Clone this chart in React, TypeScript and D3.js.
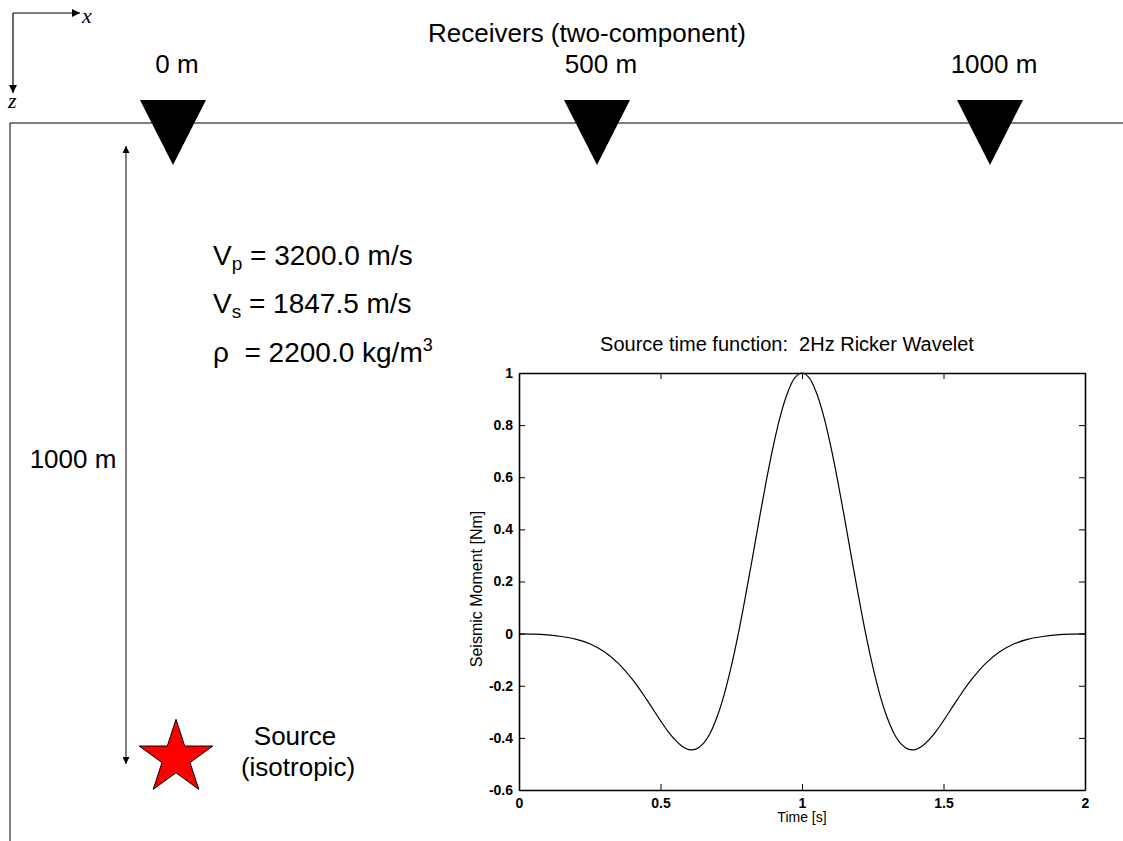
import React, { useEffect, useRef } from 'react';
import * as d3 from 'd3';

// source time function samples
const times = [
  0, 0.05, 0.1, 0.15, 0.2, 0.25, 0.3, 0.35, 0.4, 0.45,
  0.5, 0.525, 0.55, 0.575, 0.6, 0.625, 0.65, 0.675, 0.7, 0.725,
  0.75, 0.775, 0.8, 0.825, 0.85, 0.875, 0.9, 0.925, 0.95, 0.975,
  1, 1.025, 1.05, 1.075, 1.1, 1.125, 1.15, 1.175, 1.2, 1.225,
  1.25, 1.275, 1.3, 1.325, 1.35, 1.375, 1.4, 1.425, 1.45, 1.475,
  1.5, 1.55, 1.6, 1.65, 1.7, 1.75, 1.8, 1.85, 1.9, 1.95, 2,
];
const moment = [
  -0.001, -0.002, -0.005, -0.011, -0.021, -0.039, -0.069, -0.113, -0.175, -0.251,
  -0.334, -0.373, -0.406, -0.431, -0.445, -0.443, -0.423, -0.383, -0.319, -0.234,
  -0.126, 0, 0.142, 0.292, 0.445, 0.593, 0.727, 0.841, 0.927, 0.982,
  1, 0.982, 0.927, 0.841, 0.727, 0.593, 0.445, 0.292, 0.142, 0,
  -0.126, -0.234, -0.319, -0.383, -0.423, -0.443, -0.445, -0.431, -0.406, -0.373,
  -0.334, -0.251, -0.175, -0.113, -0.069, -0.039, -0.021, -0.011, -0.005, -0.002, -0.001,
];
const xTicks = [0, 0.5, 1, 1.5, 2];
const yTicks = [-0.6, -0.4, -0.2, 0, 0.2, 0.4, 0.6, 0.8, 1];

const receiverOffsets = [0, 500, 1000];
const receiverLabels = ['0 m', '500 m', '1000 m'];

const font = '"Liberation Sans", Arial, sans-serif';
const serif = '"Liberation Serif", "Times New Roman", serif';

const Inset = () => {
  const ref = useRef<SVGGElement>(null);

  useEffect(() => {
    const left = 519, right = 1085, top = 373, bottom = 790;
    const x = d3.scaleLinear().domain([0, 2]).range([left, right]);
    const y = d3.scaleLinear().domain([-0.6, 1]).range([bottom, top]);

    const g = d3.select(ref.current);
    g.selectAll('*').remove();

    const fmt = (d: any) => String(d);

    g.append('g')
      .attr('transform', `translate(0,${bottom})`)
      .call(d3.axisBottom(x).tickValues(xTicks).tickFormat(fmt).tickSizeInner(-6).tickSizeOuter(0).tickPadding(8));
    g.append('g')
      .attr('transform', `translate(0,${top})`)
      .call(d3.axisTop(x).tickValues(xTicks).tickFormat(() => '').tickSizeInner(-6).tickSizeOuter(0));
    g.append('g')
      .attr('transform', `translate(${left},0)`)
      .call(d3.axisLeft(y).tickValues(yTicks).tickFormat(fmt).tickSizeInner(-6).tickSizeOuter(0).tickPadding(6));
    g.append('g')
      .attr('transform', `translate(${right},0)`)
      .call(d3.axisRight(y).tickValues(yTicks).tickFormat(() => '').tickSizeInner(-6).tickSizeOuter(0));

    g.selectAll('.domain').attr('stroke', '#000').attr('stroke-width', 1.6);
    g.selectAll('.tick line').attr('stroke', '#000');
    g.selectAll('.tick text')
      .attr('font-family', font)
      .attr('font-size', 14)
      .attr('font-weight', 'bold')
      .attr('fill', '#000');

    const line = d3.line<number>()
      .x((d, i) => x(times[i]))
      .y(d => y(d))
      .curve(d3.curveCatmullRom.alpha(0.5));

    g.append('path')
      .datum(moment)
      .attr('fill', 'none')
      .attr('stroke', '#000')
      .attr('stroke-width', 1.2)
      .attr('d', line);

    g.append('text')
      .attr('x', 787)
      .attr('y', 351)
      .attr('text-anchor', 'middle')
      .attr('font-family', font)
      .attr('font-size', 20)
      .style('white-space', 'pre')
      .text('Source time function:  2Hz Ricker Wavelet');

    g.append('text')
      .attr('x', 802)
      .attr('y', 822)
      .attr('text-anchor', 'middle')
      .attr('font-family', font)
      .attr('font-size', 14)
      .text('Time [s]');

    g.append('text')
      .attr('transform', 'translate(482,589) rotate(-90)')
      .attr('text-anchor', 'middle')
      .attr('font-family', font)
      .attr('font-size', 16)
      .text('Seismic Moment [Nm]');
  }, []);

  return <g ref={ref} />;
};

const App = () => {
  const rx = d3.scaleLinear().domain([0, 500, 1000]).range([173, 597, 990]);
  const depth = d3.scaleLinear().domain([0, 1000]).range([146, 764]);
  const star = d3.symbol().type(d3.symbolStar).size(1680)();

  return (
    <svg
      width={1123}
      height={841}
      style={{ position: 'absolute', left: 0, top: 0, background: '#fff' }}
      fontFamily={font}
    >
      <defs>
        <marker id="ah" viewBox="0 0 10 10" refX="10" refY="5" markerWidth="11" markerHeight="8"
          markerUnits="userSpaceOnUse" orient="auto-start-reverse">
          <path d="M0,0 L10,5 L0,10 Z" fill="#000" />
        </marker>
        <marker id="ahs" viewBox="0 0 10 10" refX="10" refY="5" markerWidth="10" markerHeight="7"
          markerUnits="userSpaceOnUse" orient="auto-start-reverse">
          <path d="M0,0 L10,5 L0,10 Z" fill="#000" />
        </marker>
      </defs>

      {/* coordinate icon */}
      <line x1={13} y1={13} x2={80} y2={13} stroke="#000" strokeWidth={1.2} markerEnd="url(#ah)" />
      <line x1={13} y1={13} x2={13} y2={93} stroke="#000" strokeWidth={1.2} markerEnd="url(#ah)" />
      <text x={82} y={23} fontFamily={serif} fontStyle="italic" fontSize={22}>x</text>
      <text x={8} y={108} fontFamily={serif} fontStyle="italic" fontSize={22}>z</text>

      {/* model box */}
      <line x1={10} y1={123} x2={1123} y2={123} stroke="#000" strokeWidth={1} />
      <line x1={10} y1={123} x2={10} y2={841} stroke="#000" strokeWidth={1} />

      <text x={587} y={42} textAnchor="middle" fontSize={26}>Receivers (two-component)</text>
      {receiverOffsets.map((d, i) => (
        <g key={d}>
          <text x={rx(d) + 4} y={73} textAnchor="middle" fontSize={26}>{receiverLabels[i]}</text>
          <path d={`M${rx(d) - 33},100 L${rx(d) + 33},100 L${rx(d)},165 Z`} fill="#000" />
        </g>
      ))}

      {/* depth arrow */}
      <line x1={126} y1={depth(0)} x2={126} y2={depth(1000)} stroke="#000" strokeWidth={1}
        markerStart="url(#ahs)" markerEnd="url(#ahs)" />
      <text x={73} y={468} textAnchor="middle" fontSize={26}>1000 m</text>

      {/* medium properties */}
      <text x={213} y={265} fontSize={28}>
        V<tspan fontSize={19} dy={5}>p</tspan><tspan dy={-5}> = 3200.0 m/s</tspan>
      </text>
      <text x={213} y={313} fontSize={28}>
        V<tspan fontSize={19} dy={5}>s</tspan><tspan dy={-5}> = 1847.5 m/s</tspan>
      </text>
      <text x={213} y={362} fontSize={28} style={{ whiteSpace: 'pre' }}>
        {'ρ  = 2200.0 kg/m'}<tspan fontSize={18} dy={-11}>3</tspan>
      </text>

      {/* source */}
      <path d={star ?? ''} transform="translate(176,758)" fill="#ff0000" stroke="#000" strokeWidth={1} />
      <text x={295} y={745} textAnchor="middle" fontSize={26}>Source</text>
      <text x={298} y={776} textAnchor="middle" fontSize={26}>(isotropic)</text>

      <Inset />
    </svg>
  );
};

export default App;
